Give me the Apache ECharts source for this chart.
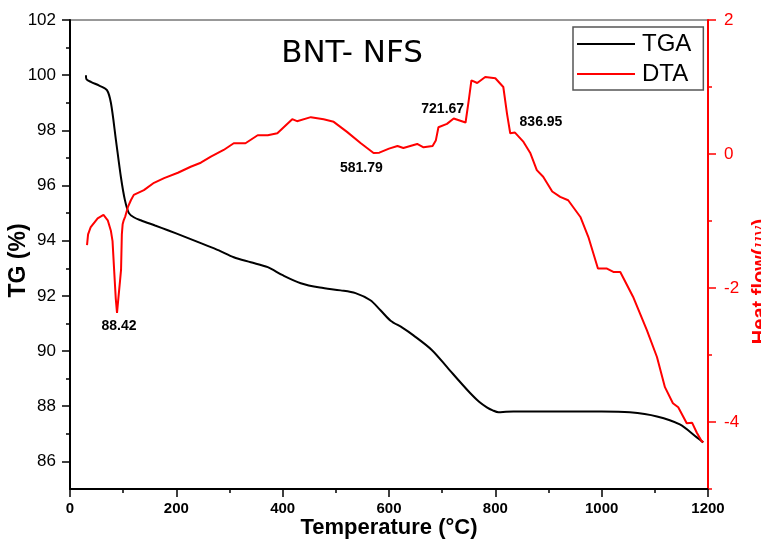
<!DOCTYPE html>
<html>
<head>
<meta charset="utf-8">
<script src="https://cdn.jsdelivr.net/npm/echarts@6/dist/echarts.min.js"></script>
<style>html,body{margin:0;padding:0;background:#fff}#c{width:761px;height:539px}</style>
</head>
<body>
<div id="c"></div>
<script>
// ---- data ----
const tgaTemp = [30, 31, 40, 55, 69.5, 77, 86.4, 95.8, 103.3, 110.8, 120, 133, 160, 184, 215, 246, 280, 308, 340, 372, 400, 434, 470, 509, 537, 565, 584, 603, 625, 646, 680, 710, 735, 753, 770, 784, 795, 806, 820, 834, 900, 1000, 1053, 1104, 1147, 1179, 1191];
const tgaValue = [100.0, 99.85, 99.75, 99.62, 99.46, 98.99, 97.65, 96.3, 95.47, 95.0, 94.85, 94.74, 94.55, 94.38, 94.15, 93.91, 93.65, 93.4, 93.22, 93.04, 92.75, 92.46, 92.3, 92.2, 92.1, 91.84, 91.48, 91.1, 90.85, 90.57, 90.05, 89.4, 88.85, 88.47, 88.15, 87.96, 87.85, 87.78, 87.8, 87.81, 87.81, 87.81, 87.78, 87.63, 87.34, 86.87, 86.69];

const dtaTemp = [32, 34, 39, 52, 63, 71, 77, 80, 83, 86, 88.42, 91, 94, 96, 97.5, 99, 101, 104, 109, 114.5, 120, 139, 158, 177, 203, 227, 246, 265, 289, 308, 330, 353, 372, 390, 402, 418, 427, 453, 477, 496, 521, 547, 571, 581.79, 600, 616, 627, 640, 653, 665, 682, 688, 693, 709, 721.67, 744, 750, 755, 766, 781, 800, 815, 822, 828, 836.95, 853, 866, 878, 890, 907, 922, 937, 960, 975, 993, 1010, 1022, 1035, 1059, 1085, 1104, 1119, 1134, 1144, 1160, 1170, 1179, 1189, 1191];
const dtaValue = [-1.36, -1.2, -1.09, -0.96, -0.91, -0.99, -1.15, -1.3, -1.73, -2.15, -2.37, -2.15, -1.9, -1.73, -1.2, -1.05, -0.99, -0.93, -0.79, -0.69, -0.61, -0.54, -0.43, -0.36, -0.28, -0.19, -0.13, -0.04, 0.06, 0.16, 0.16, 0.28, 0.28, 0.31, 0.4, 0.52, 0.49, 0.55, 0.52, 0.48, 0.33, 0.16, 0.015, 0.02, 0.08, 0.12, 0.09, 0.12, 0.15, 0.1, 0.12, 0.2, 0.4, 0.45, 0.53, 0.47, 0.8, 1.1, 1.06, 1.15, 1.13, 1.0, 0.6, 0.31, 0.32, 0.18, 0.01, -0.24, -0.34, -0.56, -0.64, -0.69, -0.94, -1.24, -1.71, -1.71, -1.76, -1.76, -2.13, -2.63, -3.03, -3.48, -3.72, -3.78, -4.02, -4.01, -4.16, -4.3, -4.28];

const peakLabels = ['88.42', '581.79', '721.67', '836.95'];
const peakTemps = [88.42, 581.79, 721.67, 836.95];
const peakValues = [-2.37, 0.02, 0.53, 0.32];

const xTicks = [0, 200, 400, 600, 800, 1000, 1200];
const leftTicks = [86, 88, 90, 92, 94, 96, 98, 100, 102];
const leftMinor = [87, 89, 91, 93, 95, 97, 99, 101];
const rightTicks = [-4, -2, 0, 2];
const rightMinor = [-5, -3, -1, 1];

// ---- chart ----
const FONT = 'Liberation Sans, Arial, sans-serif';
const tgaData = tgaTemp.map((t, i) => [t, tgaValue[i]]);
const dtaData = dtaTemp.map((t, i) => [t, dtaValue[i]]);
const labelOffsets = [[2, 13], [-18, 15], [-11, -9], [26, -10]];
const markData = peakLabels.map((l, i) => ({
  coord: [peakTemps[i], peakValues[i]],
  value: l,
  label: { offset: labelOffsets[i] }
}));

const chart = echarts.init(document.getElementById('c'), null, { renderer: 'canvas' });
chart.setOption({
  animation: false,
  backgroundColor: '#fff',
  title: {
    text: 'BNT- NFS',
    left: 347, top: 33, textAlign: 'center',
    textStyle: { fontFamily: 'DejaVu Sans, sans-serif', fontSize: 31, fontWeight: 'normal', color: '#000' }
  },
  legend: {
    orient: 'vertical',
    left: 573, top: 27,
    padding: [5, 12, 4, 4],
    itemGap: 6,
    itemWidth: 58, itemHeight: 2,
    icon: 'rect',
    borderColor: '#555', borderWidth: 1.5,
    textStyle: { fontFamily: FONT, fontSize: 24, color: '#000', padding: [0, 0, 0, 2] },
    data: ['TGA', 'DTA']
  },
  grid: { left: 70, right: 53, top: 20, bottom: 50, outerBoundsMode: 'none', containLabel: false, show: true, borderColor: '#333', borderWidth: 1 },
  xAxis: {
    type: 'value', min: 0, max: 1200, interval: 200,
    name: 'Temperature (°C)', nameLocation: 'middle', nameGap: 28, nameMoveOverlap: false,
    nameTextStyle: { fontFamily: FONT, fontSize: 22, fontWeight: 'bold', color: '#000' },
    axisLine: { show: true, onZero: false, lineStyle: { color: '#000', width: 2 } },
    axisTick: { show: true, length: 8, lineStyle: { color: '#000', width: 1.5 } },
    minorTick: { show: true, splitNumber: 2, length: 4, lineStyle: { color: '#000', width: 1.5 } },
    axisLabel: { fontFamily: FONT, fontSize: 15, fontWeight: 'bold', color: '#000', margin: 12, formatter: v => String(v) },
    splitLine: { show: false }
  },
  yAxis: [
    {
      type: 'value', position: 'left', min: 85, max: 102,
      name: 'TG (%)', nameLocation: 'middle', nameGap: 40, nameRotate: 90, nameMoveOverlap: false,
      nameTextStyle: { fontFamily: FONT, fontSize: 23, fontWeight: 'bold', color: '#000', padding: [0, 12, 0, 0] },
      axisLine: { show: true, onZero: false, lineStyle: { color: '#000', width: 2 } },
      axisTick: { show: true, length: 8, customValues: leftTicks, lineStyle: { color: '#000', width: 1.5 } },
      axisLabel: { customValues: leftTicks, fontFamily: FONT, fontSize: 17, color: '#000', margin: 14 },
      splitLine: { show: false }
    },
    {
      type: 'value', position: 'right', min: -5, max: 2,
      name: 'Heat flow({i|μv})', nameLocation: 'middle', nameGap: 42, nameRotate: 90, nameMoveOverlap: false,
      nameTextStyle: {
        fontFamily: FONT, fontSize: 20, fontWeight: 'bold', color: '#f00', padding: [0, 54, 0, 0],
        rich: { i: { fontFamily: 'DejaVu Serif, serif', fontStyle: 'italic', fontWeight: 'normal', fontSize: 19, color: '#f00' } }
      },
      axisLine: { show: true, onZero: false, lineStyle: { color: '#f00', width: 2 } },
      axisTick: { show: true, length: 8, customValues: rightTicks, lineStyle: { color: '#f00', width: 1.5 } },
      axisLabel: { customValues: rightTicks, fontFamily: FONT, fontSize: 17, color: '#f00', margin: 16 },
      splitLine: { show: false }
    },
    {
      type: 'value', position: 'left', min: 85, max: 102,
      axisLine: { show: false, onZero: false },
      axisTick: { show: true, length: 4, customValues: leftMinor, lineStyle: { color: '#000', width: 1.5 } },
      axisLabel: { show: false },
      splitLine: { show: false }
    },
    {
      type: 'value', position: 'right', min: -5, max: 2,
      axisLine: { show: false, onZero: false },
      axisTick: { show: true, length: 4, customValues: rightMinor, lineStyle: { color: '#f00', width: 1.5 } },
      axisLabel: { show: false },
      splitLine: { show: false }
    }
  ],
  series: [
    {
      name: 'TGA', type: 'line', yAxisIndex: 0, data: tgaData,
      showSymbol: false, smooth: 0.3, color: '#000',
      lineStyle: { color: '#000', width: 2 }
    },
    {
      name: 'DTA', type: 'line', yAxisIndex: 1, data: dtaData,
      showSymbol: false, smooth: false, color: '#f00',
      lineStyle: { color: '#f00', width: 2 },
      markPoint: {
        symbol: 'circle', symbolSize: 0,
        label: {
          show: true, position: 'inside', formatter: p => p.value,
          fontFamily: FONT, fontSize: 14, fontWeight: 'bold', color: '#000'
        },
        data: markData
      }
    }
  ]
});
</script>
</body>
</html>
